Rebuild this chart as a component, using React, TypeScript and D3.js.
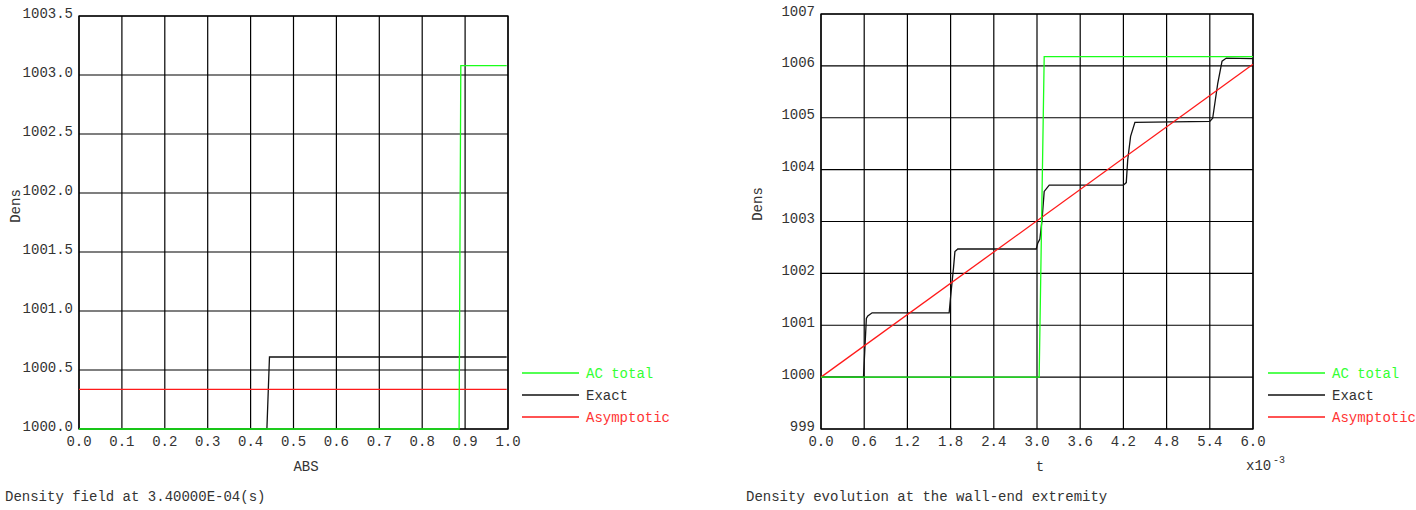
import React, { useEffect } from "react";
import * as d3 from "d3";

// ---------- Left chart data: density field at 3.4e-4 s ----------
const leftXTicks = [0, 0.1, 0.2, 0.3, 0.4, 0.5, 0.6, 0.7, 0.8, 0.9, 1.0];
const leftYTicks = [1000.0, 1000.5, 1001.0, 1001.5, 1002.0, 1002.5, 1003.0, 1003.5];
const leftAcTotal: [number, number][] = [
  [0, 1000], [0.886, 1000], [0.890, 1003.08], [0.997, 1003.08],
];
const leftExact: [number, number][] = [
  [0, 1000], [0.438, 1000], [0.444, 1000.61], [0.997, 1000.61],
];
const leftAsymptotic: [number, number][] = [
  [0, 1000.336], [0.997, 1000.336],
];

// ---------- Right chart data: density evolution (t in 1e-3 s) ----------
const rightXTicks = [0, 0.6, 1.2, 1.8, 2.4, 3.0, 3.6, 4.2, 4.8, 5.4, 6.0];
const rightYTicks = [999, 1000, 1001, 1002, 1003, 1004, 1005, 1006, 1007];
const rightAcTotal: [number, number][] = [
  [0, 1000], [3.03, 1000], [3.10, 1006.18], [6.0, 1006.18],
];
const rightExact: [number, number][] = [
  [0, 1000], [0.59, 1000], [0.63, 1001.13], [0.65, 1001.18], [0.71, 1001.24],
  [1.78, 1001.24], [1.80, 1001.55], [1.84, 1002.1], [1.86, 1002.42], [1.90, 1002.47],
  [2.99, 1002.47], [3.01, 1002.58], [3.04, 1002.66], [3.07, 1003.03], [3.10, 1003.58], [3.17, 1003.70],
  [4.20, 1003.70], [4.24, 1003.75], [4.26, 1004.19], [4.30, 1004.64], [4.36, 1004.91],
  [5.40, 1004.93], [5.44, 1004.99], [5.51, 1005.66], [5.57, 1006.09], [5.63, 1006.15], [6.0, 1006.14],
];
const rightAsymptotic: [number, number][] = [
  [0, 1000], [6.0, 1006.03],
];

const legendNames = ["AC total", "Exact", "Asymptotic"];
const colGreen = "#1aff1a";
const colBlack = "#111111";
const colRed = "#ff1a1a";
const legendColors = [colGreen, colBlack, colRed];
const legendTextColors = ["#33ff33", "#333333", "#ff3333"];

const FONT = "'Liberation Mono', 'DejaVu Sans Mono', monospace";
const TXT = "#333333";

interface PanelProps {
  x0: number; x1: number; y0: number; y1: number;
  xDomain: [number, number]; yDomain: [number, number];
  xTicks: number[]; yTicks: number[];
  xFmt: (v: number) => string; yFmt: (v: number) => string;
  series: [number, number][][];
  xLabel: string; xLabelX: number;
  densX: number; densY: number;
  legendLineX: number;
  title: string; titleX: number;
  exponent?: boolean;
}

function Panel(p: PanelProps) {
  const xs = d3.scaleLinear().domain(p.xDomain).range([p.x0, p.x1]);
  const ys = d3.scaleLinear().domain(p.yDomain).range([p.y1, p.y0]);
  const line = d3.line<[number, number]>().x((d) => xs(d[0])).y((d) => ys(d[1]));
  const legendRows = [373, 395, 417];
  return (
    <g>
      {p.xTicks.map((t, i) => (
        <line key={"gx" + i} x1={xs(t)} x2={xs(t)} y1={p.y0} y2={p.y1} stroke="#000" strokeWidth={1.2} />
      ))}
      {p.yTicks.map((t, i) => (
        <line key={"gy" + i} x1={p.x0} x2={p.x1} y1={ys(t)} y2={ys(t)} stroke="#000" strokeWidth={1.2} />
      ))}
      <rect x={p.x0} y={p.y0} width={p.x1 - p.x0} height={p.y1 - p.y0} fill="none" stroke="#000" strokeWidth={1.3} />
      {p.series.map((s, i) => (
        <path key={"s" + i} d={line(s) || ""} fill="none" stroke={[colBlack, colRed, colGreen][i]} strokeWidth={1.3} />
      ))}
      {p.yTicks.map((t, i) => (
        <text key={"ly" + i} x={p.x0 - 6} y={ys(t) + 1.5} textAnchor="end" fontFamily={FONT} fontSize={14} fill={TXT}>
          {p.yFmt(t)}
        </text>
      ))}
      {p.xTicks.map((t, i) => (
        <text key={"lx" + i} x={xs(t)} y={p.y1 + 16.5} textAnchor="middle" fontFamily={FONT} fontSize={14} fill={TXT}>
          {p.xFmt(t)}
        </text>
      ))}
      <text x={p.xLabelX} y={471} textAnchor="middle" fontFamily={FONT} fontSize={14} fill={TXT}>{p.xLabel}</text>
      {p.exponent && (
        <g>
          <text x={1246} y={470} fontFamily={FONT} fontSize={14} fill={TXT}>x10</text>
          <text x={1273} y={463} fontFamily={FONT} fontSize={10} fill={TXT}>-3</text>
        </g>
      )}
      <text transform={`translate(${p.densX + 4.5},${p.densY}) rotate(-90)`} textAnchor="middle" fontFamily={FONT} fontSize={14} fill={TXT}>Dens</text>
      {legendNames.map((n, i) => (
        <g key={"lg" + i}>
          <line x1={p.legendLineX} x2={p.legendLineX + 57} y1={legendRows[i]} y2={legendRows[i]} stroke={legendColors[i]} strokeWidth={1.3} />
          <text x={p.legendLineX + 64} y={legendRows[i] + 4.5} fontFamily={FONT} fontSize={14} fill={legendTextColors[i]}>{n}</text>
        </g>
      ))}
      <text x={p.titleX} y={501} fontFamily={FONT} fontSize={14} fill={TXT}>{p.title}</text>
    </g>
  );
}

export default function App() {
  useEffect(() => {
    document.body.style.margin = "0";
  }, []);
  return (
    <svg width={1416} height={510} style={{ display: "block", background: "#fff" }}>
      <Panel
        x0={79} x1={508} y0={16} y1={429}
        xDomain={[0, 1]} yDomain={[1000, 1003.5]}
        xTicks={leftXTicks} yTicks={leftYTicks}
        xFmt={(v) => v.toFixed(1)} yFmt={(v) => v.toFixed(1)}
        series={[leftExact, leftAsymptotic, leftAcTotal]}
        xLabel="ABS" xLabelX={306}
        densX={15} densY={206}
        legendLineX={522}
        title="Density field at 3.40000E-04(s)" titleX={5}
      />
      <Panel
        x0={821} x1={1253} y0={14} y1={429}
        xDomain={[0, 6]} yDomain={[999, 1007]}
        xTicks={rightXTicks} yTicks={rightYTicks}
        xFmt={(v) => v.toFixed(1)} yFmt={(v) => v.toFixed(0)}
        series={[rightExact, rightAsymptotic, rightAcTotal]}
        xLabel="t" xLabelX={1040}
        densX={757} densY={204}
        legendLineX={1268}
        title="Density evolution at the wall-end extremity" titleX={746}
        exponent
      />
    </svg>
  );
}
